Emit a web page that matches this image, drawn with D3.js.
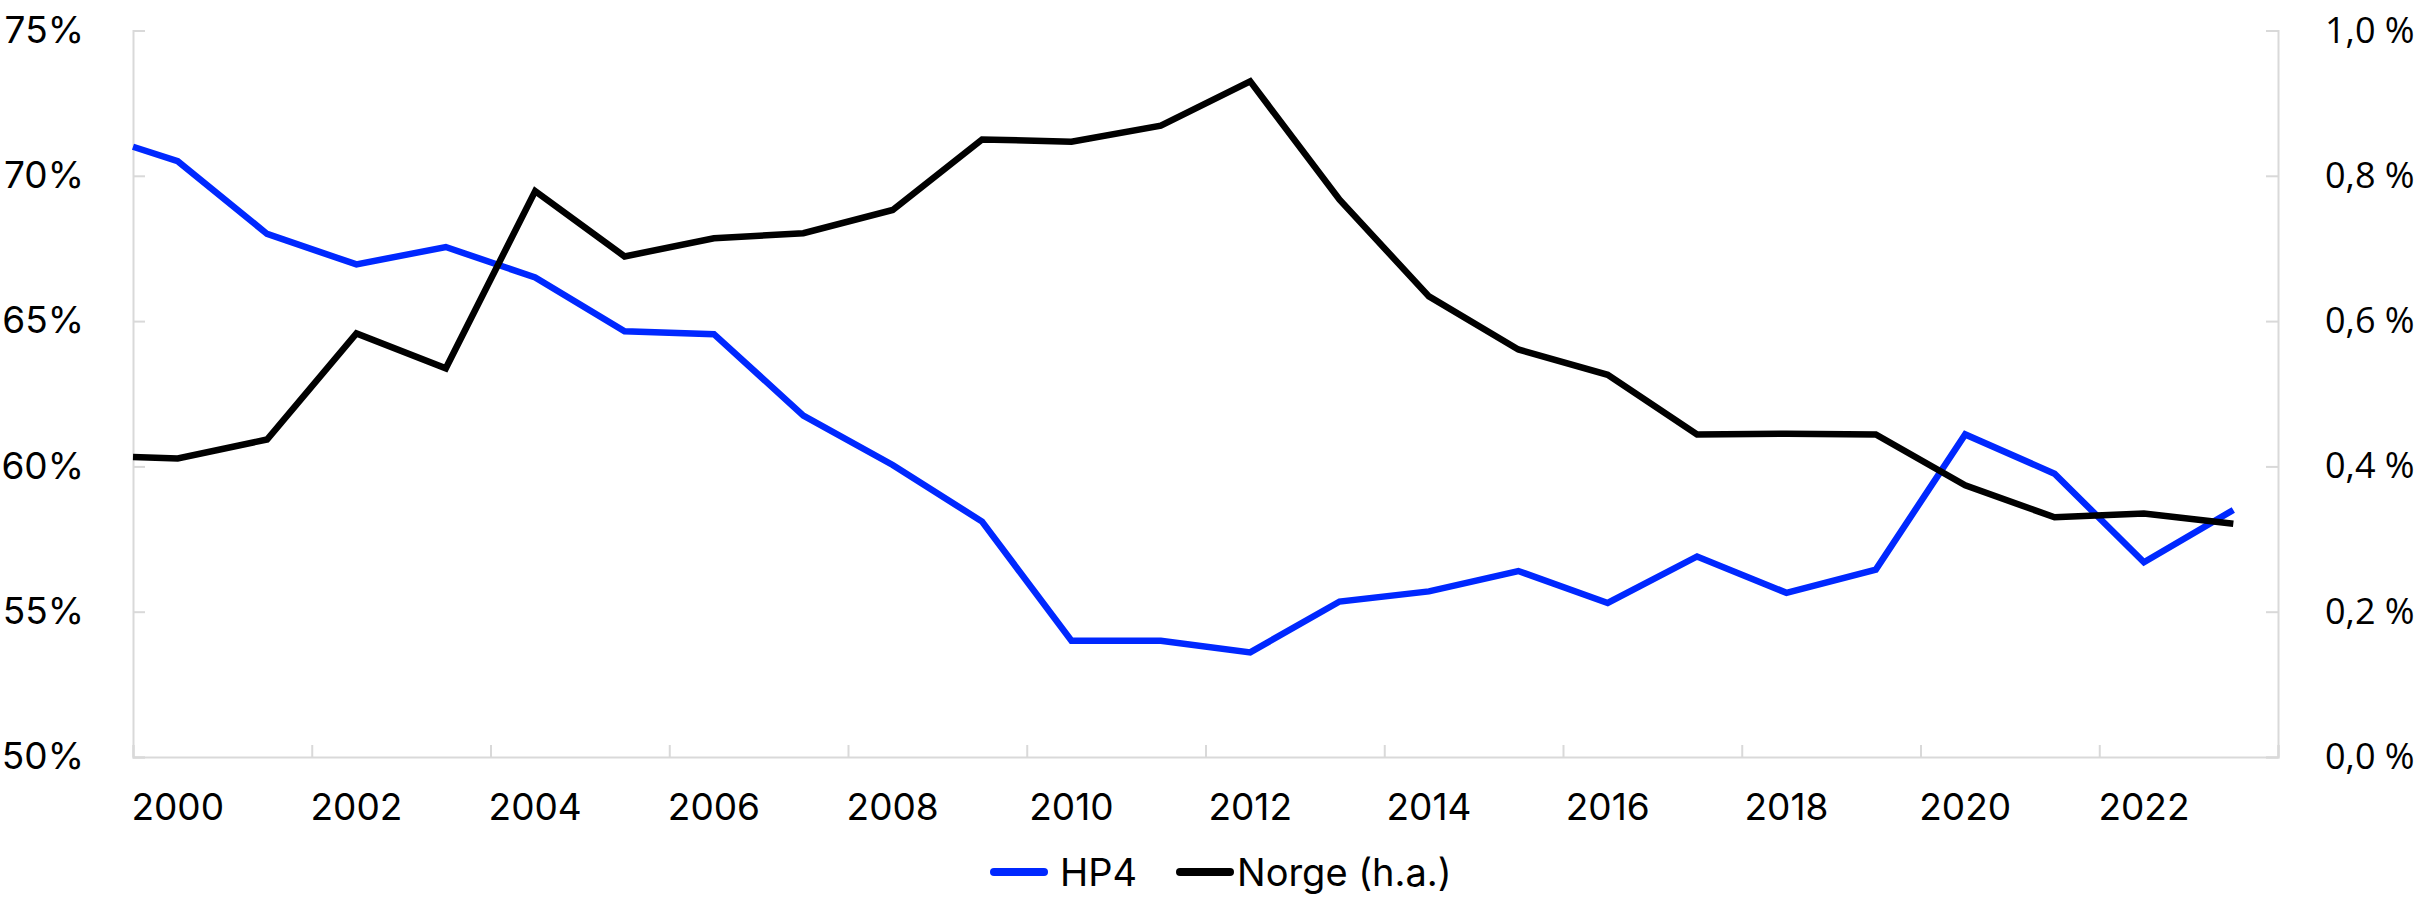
<!DOCTYPE html>
<html>
<head>
<meta charset="utf-8">
<script src="https://cdn.jsdelivr.net/npm/d3@7"></script>
<style>
    html, body { margin: 0; padding: 0; background: #fff; }
    #chart { width: 2418px; height: 897px; }
    text { font-family: "Inter", "Liberation Sans", sans-serif; fill: #000; }
    .right-axis text { font-family: "Open Sans", "Noto Sans", sans-serif; }
</style>
</head>
<body>
<div id="chart"></div>
<script>
// values; first point sits half a year before 2000
const years = [1999.5, 2000, 2001, 2002, 2003, 2004, 2005, 2006, 2007, 2008, 2009, 2010,
    2011, 2012, 2013, 2014, 2015, 2016, 2017, 2018, 2019, 2020, 2021, 2022, 2023];
const hp4 = [71.0, 70.5, 68.0, 66.95, 67.55, 66.5, 64.65, 64.55, 61.75, 60.05, 58.1, 54.0,
    54.0, 53.6, 55.35, 55.7, 56.4, 55.3, 56.9, 55.65, 56.45, 61.1, 59.75, 56.7, 58.5];
const norge = [0.413, 0.411, 0.437, 0.583, 0.535, 0.779, 0.689, 0.714, 0.721, 0.753, 0.850, 0.847,
    0.869, 0.930, 0.767, 0.634, 0.561, 0.526, 0.444, 0.445, 0.444, 0.374, 0.330, 0.335, 0.321];

const xTicks = [1999.5, 2001.5, 2003.5, 2005.5, 2007.5, 2009.5, 2011.5, 2013.5, 2015.5, 2017.5, 2019.5, 2021.5, 2023.5];
const xLabels = [2000, 2002, 2004, 2006, 2008, 2010, 2012, 2014, 2016, 2018, 2020, 2022];
const leftTicks = [50, 55, 60, 65, 70, 75];
const rightTicks = [0, 0.2, 0.4, 0.6, 0.8, 1.0];

const seriesNames = ["HP4", "Norge (h.a.)"];
const seriesColours = ["#0028ff", "#000000"];

const margin = { top: 30.5, right: 140, bottom: 140, left: 133 },
    width = 2418 - margin.left - margin.right,
    height = 897 - margin.top - margin.bottom;

const axisColour = "#d9d9d9";

const svgContainer = d3.select("#chart").append("svg")
    .attr("width", width + margin.left + margin.right)
    .attr("height", height + margin.top + margin.bottom);

const svg = svgContainer.append("g")
    .attr("transform", `translate(${margin.left},${margin.top})`);

const x = d3.scaleLinear()
    .domain([1999.5, 2023.5])
    .range([0, width]);

const yLeft = d3.scaleLinear()
    .domain([50, 75])
    .range([height, 0]);

const yRight = d3.scaleLinear()
    .domain([0, 1.0])
    .range([height, 0]);

const noLocale = d3.formatLocale({ decimal: ",", thousands: " ", grouping: [3], currency: ["", " kr"] });
const fmtRight = noLocale.format(".1f");

// bottom axis: ticks every other year between the labels
const xAxisGroup = svg.append("g")
    .attr("transform", `translate(0,${height})`)
    .call(d3.axisBottom(x).tickValues(xTicks).tickSize(-12).tickFormat(""));

xAxisGroup.selectAll("line").style("stroke", axisColour).style("stroke-width", 2);
xAxisGroup.select("path").style("stroke", axisColour).style("stroke-width", 2);

svg.append("g")
    .selectAll("text")
    .data(xLabels)
    .join("text")
    .attr("x", d => x(d))
    .attr("y", height + 63)
    .attr("text-anchor", "middle")
    .style("font-size", "37px")
    .text(d => d);

const yAxisGroup = svg.append("g")
    .call(d3.axisLeft(yLeft).tickValues(leftTicks).tickSize(-12).tickPadding(49).tickFormat(d => `${d}%`));

yAxisGroup.selectAll("line").style("stroke", axisColour).style("stroke-width", 2);
yAxisGroup.select("path").style("stroke", axisColour).style("stroke-width", 2);
yAxisGroup.selectAll("text").style("font-size", "37px").style("font-family", "Inter, sans-serif").attr("fill", "#000");

const yRightGroup = svg.append("g")
    .attr("class", "right-axis")
    .attr("transform", `translate(${width},0)`)
    .call(d3.axisRight(yRight).tickValues(rightTicks).tickSize(-12).tickPadding(47).tickFormat(d => `${fmtRight(d)} %`));

yRightGroup.selectAll("line").style("stroke", axisColour).style("stroke-width", 2);
yRightGroup.select("path").style("stroke", axisColour).style("stroke-width", 2);
yRightGroup.selectAll("text").style("font-size", "36px").attr("fill", "#000");

const lineLeft = d3.line()
    .x((d, i) => x(years[i]))
    .y(d => yLeft(d));

const lineRight = d3.line()
    .x((d, i) => x(years[i]))
    .y(d => yRight(d));

svg.append("path")
    .datum(hp4)
    .attr("fill", "none")
    .attr("stroke", seriesColours[0])
    .attr("stroke-width", 6.5)
    .attr("stroke-linejoin", "miter")
    .attr("d", lineLeft);

svg.append("path")
    .datum(norge)
    .attr("fill", "none")
    .attr("stroke", seriesColours[1])
    .attr("stroke-width", 6.5)
    .attr("stroke-linejoin", "miter")
    .attr("d", lineRight);

// legend
const legendX = [990, 1176];
const legend = svgContainer.append("g");

const legendItem = legend.selectAll("g")
    .data(seriesNames)
    .join("g")
    .attr("transform", (d, i) => `translate(${legendX[i]},872)`);

legendItem.append("line")
    .attr("x1", 4)
    .attr("x2", 54)
    .attr("y1", 0)
    .attr("y2", 0)
    .attr("stroke", (d, i) => seriesColours[i])
    .attr("stroke-width", 8)
    .attr("stroke-linecap", "round");

legendItem.append("text")
    .attr("x", (d, i) => i === 0 ? 70 : 61)
    .attr("y", 14)
    .style("font-size", "38px")
    .text(d => d);
</script>
</body>
</html>
